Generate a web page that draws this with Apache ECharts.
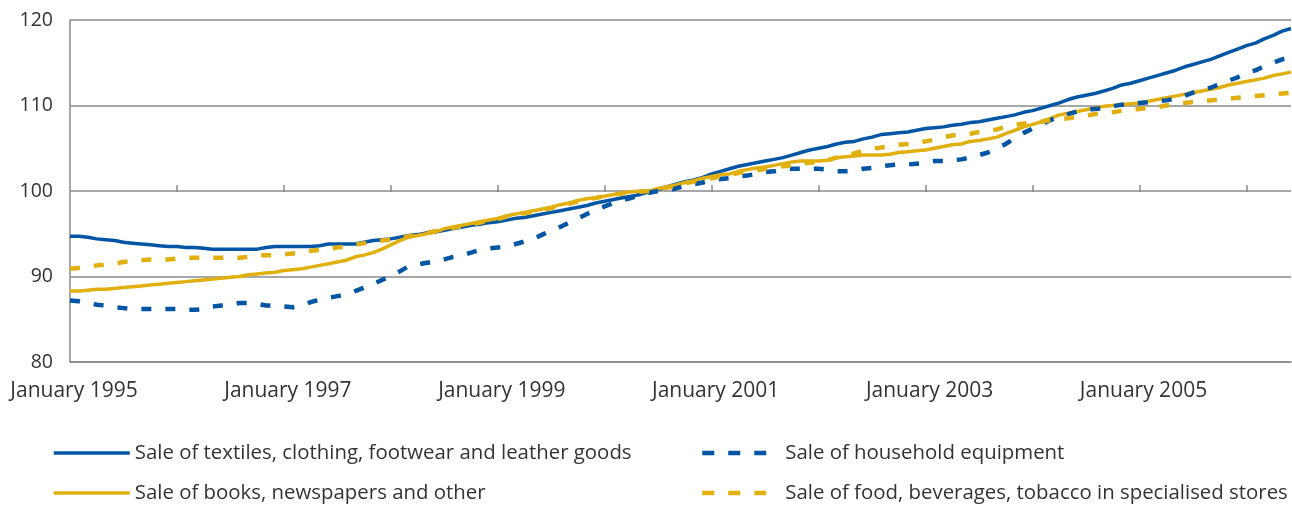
<!DOCTYPE html>
<html>
<head>
<meta charset="utf-8">
<script src="https://cdn.jsdelivr.net/npm/echarts@6/dist/echarts.min.js"></script>
<style>
  html, body { margin: 0; padding: 0; background: #fff; }
  #chart { width: 1292px; height: 505px; }
</style>
</head>
<body>
<div id="chart"></div>
<script>
// Monthly index values, January 1995 to June 2006
const monthNames = ['January', 'February', 'March', 'April', 'May', 'June',
  'July', 'August', 'September', 'October', 'November', 'December'];
const startYear = 1995;
const monthCount = 138;

const seriesNames = [
  'Sale of textiles, clothing, footwear and leather goods',
  'Sale of books, newspapers and other',
  'Sale of household equipment',
  'Sale of food, beverages, tobacco in specialised stores'
];

const textiles = [
  94.7, 94.7, 94.6, 94.4, 94.3, 94.2, 94.0, 93.9, 93.8, 93.7, 93.6, 93.5,
  93.5, 93.4, 93.4, 93.3, 93.2, 93.2, 93.2, 93.2, 93.2, 93.2, 93.4, 93.5,
  93.5, 93.5, 93.5, 93.5, 93.6, 93.8, 93.8, 93.8, 93.8, 94.0, 94.2, 94.3,
  94.4, 94.6, 94.8, 94.9, 95.1, 95.2, 95.4, 95.6, 95.8, 96.0, 96.1, 96.3,
  96.4, 96.6, 96.8, 96.9, 97.1, 97.3, 97.5, 97.7, 97.9, 98.1, 98.3, 98.6,
  98.8, 99.0, 99.2, 99.4, 99.6, 99.9, 100.2, 100.5, 100.8, 101.1, 101.3, 101.6,
  102.0, 102.3, 102.6, 102.9, 103.1, 103.3, 103.5, 103.7, 103.9, 104.2, 104.5, 104.8,
  105.0, 105.2, 105.5, 105.7, 105.8, 106.1, 106.3, 106.6, 106.7, 106.8, 106.9, 107.1,
  107.3, 107.4, 107.5, 107.7, 107.8, 108.0, 108.1, 108.3, 108.5, 108.7, 108.9, 109.2,
  109.4, 109.7, 110.0, 110.3, 110.7, 111.0, 111.2, 111.4, 111.7, 112.0, 112.4, 112.6,
  112.9, 113.2, 113.5, 113.8, 114.1, 114.5, 114.8, 115.1, 115.4, 115.8, 116.2, 116.6,
  117.0, 117.3, 117.8, 118.2, 118.7, 119.0
];

const books = [
  88.3, 88.3, 88.4, 88.5, 88.5, 88.6, 88.7, 88.8, 88.9, 89.0, 89.1, 89.2,
  89.3, 89.4, 89.5, 89.6, 89.7, 89.8, 89.9, 90.0, 90.2, 90.3, 90.4, 90.5,
  90.7, 90.8, 90.9, 91.1, 91.3, 91.5, 91.7, 91.9, 92.3, 92.5, 92.8, 93.2,
  93.7, 94.2, 94.6, 94.8, 95.0, 95.2, 95.6, 95.8, 96.0, 96.2, 96.4, 96.6,
  96.8, 97.1, 97.3, 97.5, 97.7, 97.9, 98.1, 98.4, 98.6, 98.9, 99.1, 99.2,
  99.4, 99.6, 99.8, 99.9, 100.0, 100.0, 100.3, 100.5, 100.7, 101.0, 101.2, 101.5,
  101.7, 101.9, 102.0, 102.3, 102.5, 102.7, 102.8, 103.0, 103.2, 103.4, 103.5, 103.5,
  103.5, 103.6, 103.9, 104.0, 104.1, 104.2, 104.2, 104.2, 104.3, 104.5, 104.6, 104.7,
  104.8, 105.0, 105.2, 105.4, 105.5, 105.8, 105.9, 106.1, 106.3, 106.7, 107.1, 107.5,
  107.8, 108.1, 108.5, 108.9, 109.1, 109.3, 109.5, 109.7, 109.9, 110.0, 110.1, 110.2,
  110.3, 110.5, 110.7, 110.9, 111.1, 111.3, 111.5, 111.7, 111.9, 112.1, 112.4, 112.6,
  112.8, 113.0, 113.2, 113.5, 113.7, 113.9
];

const household = [
  87.2, 87.1, 86.9, 86.7, 86.6, 86.4, 86.3, 86.2, 86.2, 86.2, 86.2, 86.2,
  86.2, 86.1, 86.1, 86.2, 86.5, 86.6, 86.7, 86.9, 86.9, 86.8, 86.6, 86.6,
  86.5, 86.4, 86.6, 87.0, 87.3, 87.5, 87.7, 87.9, 88.3, 88.7, 89.1, 89.6,
  90.0, 90.6, 91.2, 91.4, 91.6, 91.7, 92.0, 92.3, 92.5, 92.8, 93.1, 93.3,
  93.4, 93.5, 93.8, 94.1, 94.4, 94.9, 95.4, 95.8, 96.3, 96.8, 97.3, 97.8,
  98.2, 98.6, 98.9, 99.2, 99.5, 99.8, 100.0, 100.1, 100.3, 100.6, 100.8, 101.0,
  101.2, 101.4, 101.5, 101.7, 101.8, 102.0, 102.2, 102.3, 102.5, 102.6, 102.6, 102.6,
  102.6, 102.5, 102.3, 102.3, 102.4, 102.6, 102.7, 102.9, 103.0, 103.1, 103.1, 103.2,
  103.3, 103.5, 103.5, 103.6, 103.7, 103.9, 104.2, 104.5, 105.0, 105.5, 106.2, 106.8,
  107.3, 107.8, 108.3, 108.7, 109.0, 109.3, 109.5, 109.6, 109.7, 109.9, 110.1, 110.2,
  110.3, 110.4, 110.5, 110.6, 110.8, 111.1, 111.5, 111.8, 112.1, 112.5, 112.9, 113.3,
  113.8, 114.1, 114.6, 115.0, 115.4, 115.7
];

const food = [
  90.9, 91.0, 91.1, 91.3, 91.4, 91.5, 91.7, 91.8, 91.9, 92.0, 92.0, 92.0,
  92.1, 92.2, 92.2, 92.2, 92.2, 92.2, 92.2, 92.2, 92.3, 92.4, 92.5, 92.5,
  92.6, 92.7, 92.8, 93.0, 93.1, 93.2, 93.4, 93.5, 93.7, 93.9, 94.0, 94.2,
  94.3, 94.5, 94.7, 94.9, 95.1, 95.3, 95.5, 95.7, 95.9, 96.1, 96.3, 96.5,
  96.7, 97.0, 97.2, 97.4, 97.6, 97.8, 98.0, 98.3, 98.5, 98.8, 99.0, 99.2,
  99.4, 99.6, 99.7, 99.8, 99.9, 100.0, 100.2, 100.4, 100.6, 100.9, 101.1, 101.3,
  101.5, 101.7, 101.9, 102.1, 102.3, 102.4, 102.6, 102.7, 102.9, 103.0, 103.2, 103.3,
  103.4, 103.6, 103.9, 104.1, 104.4, 104.7, 104.9, 105.1, 105.2, 105.4, 105.5, 105.6,
  105.8, 106.0, 106.3, 106.5, 106.6, 106.7, 106.9, 107.0, 107.2, 107.5, 107.7, 107.9,
  108.0, 108.1, 108.3, 108.4, 108.5, 108.7, 108.8, 109.0, 109.1, 109.2, 109.4, 109.5,
  109.6, 109.7, 109.8, 110.0, 110.2, 110.3, 110.4, 110.5, 110.6, 110.7, 110.8, 110.9,
  111.0, 111.1, 111.2, 111.3, 111.4, 111.5
];

const yTicks = [80, 90, 100, 110, 120];

// Category labels: "January 1995", "February 1995", ...
const months = [];
for (let i = 0; i < monthCount; i++) {
  months.push(monthNames[i % 12] + ' ' + (startYear + Math.floor(i / 12)));
}

const BLUE = '#0056a4';
const GOLD = '#e1b00f';
const GRID_GREY = '#8a8a8a';
const TEXT = '#333333';
const FONT = 'Open Sans';

const SOLID_W = 3.5;
const DASH_W = 4.5;
const DASH = [10, 14];

const chart = echarts.init(document.getElementById('chart'), null, { renderer: 'canvas' });

function solid(color) {
  return { color: color, width: SOLID_W, type: 'solid' };
}
function dashed(color) {
  return { color: color, width: DASH_W, type: DASH, cap: 'butt' };
}

// One legend block per entry, laid out in two columns of two rows
function legendEntry(name, left, top, width, lineWidth, lineType) {
  return {
    orient: 'horizontal', left: left, top: top,
    itemWidth: width, itemHeight: 14, itemGap: 0,
    padding: 0,
    data: [name],
    itemStyle: { opacity: 0, borderWidth: 0 },
    lineStyle: { width: lineWidth, type: lineType },
    textStyle: { fontFamily: FONT, fontSize: 20.4, color: TEXT, lineHeight: 24 }
  };
}

chart.setOption({
  animation: false,
  textStyle: { fontFamily: FONT },
  grid: [
    { left: 70, right: 1, top: 20, height: 342, containLabel: false },
    // upper half: carries the year ticks that sit on the 100 line
    { left: 70, right: 1, top: 20, height: 172, containLabel: false }
  ],
  legend: [
    legendEntry(seriesNames[0], 52, 441, 76, SOLID_W, 'solid'),
    legendEntry(seriesNames[1], 52, 481, 76, SOLID_W, 'solid'),
    legendEntry(seriesNames[2], 700, 441, 78, DASH_W, [12, 14]),
    legendEntry(seriesNames[3], 700, 481, 78, DASH_W, [12, 14])
  ],
  xAxis: [
    {
      type: 'category', gridIndex: 0, data: months, boundaryGap: false,
      axisLine: { show: true, lineStyle: { color: GRID_GREY, width: 1.5 } },
      axisTick: { show: false },
      splitLine: { show: false },
      axisLabel: {
        interval: (idx) => idx % 24 === 0,
        fontSize: 21, color: TEXT, margin: 19,
        padding: [0, 0, 0, 8]
      }
    },
    {
      type: 'category', gridIndex: 1, data: months, boundaryGap: false,
      axisLine: { show: false },
      axisLabel: { show: false },
      splitLine: { show: false },
      axisTick: {
        show: true, inside: true, length: 7,
        interval: (idx) => idx % 12 === 0 && idx > 0,
        lineStyle: { color: GRID_GREY, width: 1.5 }
      }
    }
  ],
  yAxis: [
    {
      type: 'value', gridIndex: 0, min: yTicks[0], max: yTicks[yTicks.length - 1], interval: 10,
      axisLine: { show: true, lineStyle: { color: GRID_GREY, width: 1.5 } },
      axisTick: { show: false },
      splitLine: { show: true, lineStyle: { color: GRID_GREY, width: 1.5 } },
      axisLabel: { fontSize: 19.5, color: TEXT, margin: 17 }
    },
    {
      type: 'value', gridIndex: 1, min: 100, max: 120, show: false
    }
  ],
  series: [
    {
      name: seriesNames[0], type: 'line', data: textiles, symbol: 'none',
      lineStyle: solid(BLUE), itemStyle: { color: BLUE }
    },
    {
      name: seriesNames[1], type: 'line', data: books, symbol: 'none',
      lineStyle: solid(GOLD), itemStyle: { color: GOLD }
    },
    {
      name: seriesNames[2], type: 'line', data: household, symbol: 'none',
      lineStyle: dashed(BLUE), itemStyle: { color: BLUE }
    },
    {
      name: seriesNames[3], type: 'line', data: food, symbol: 'none',
      lineStyle: dashed(GOLD), itemStyle: { color: GOLD }
    }
  ]
});
</script>
</body>
</html>
